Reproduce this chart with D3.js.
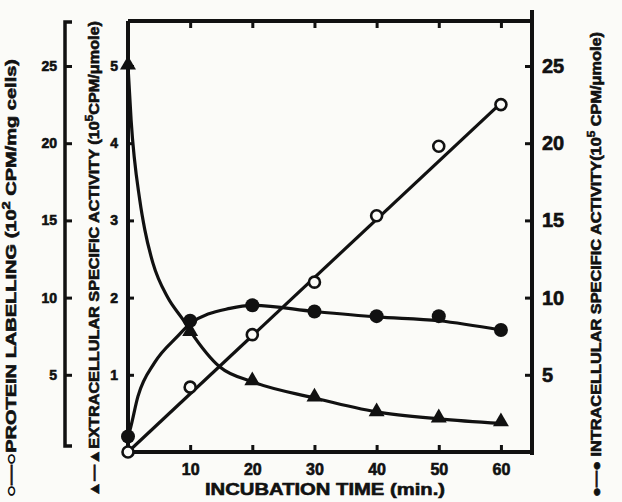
<!DOCTYPE html>
<html>
<head>
<meta charset="utf-8">
<script src="https://cdn.jsdelivr.net/npm/d3@7"></script>
<style>
  body { margin: 0; background: #fbfbf8; }
  svg { display: block; }
  text { font-family: "Liberation Sans", Arial, sans-serif; font-weight: bold; fill: #111; stroke: #111; stroke-width: 0.6; }
  .axis path.domain { display: none; }
  .axis line { stroke: #111; stroke-width: 3; }
</style>
</head>
<body>
<svg id="chart" width="622" height="502"></svg>
<script>
// sampling times (min.)
var times   = [0, 10, 20, 30, 40, 50, 60];
// open circles: protein labelling (10^2 CPM/mg cells)
var protein = [0, 4.2, 7.6, 11.0, 15.3, 19.8, 22.5];
// filled circles: intracellular specific activity (10^5 CPM/umole)
var intra   = [1.0, 8.5, 9.5, 9.1, 8.8, 8.8, 7.9];
// triangles: extracellular specific activity (10^5 CPM/umole)
var extra   = [5.0, 1.55, 0.91, 0.70, 0.51, 0.43, 0.38];

// hand-drawn curves
var extraCurveT = [0, 0.5, 1.9, 2.7, 4.0, 6.4, 8.8, 10, 14.8, 20, 30, 40, 50, 60];
var extraCurveV = [5.0, 4.3, 3.26, 2.88, 2.45, 2.0, 1.72, 1.57, 1.10, 0.91, 0.70, 0.52, 0.43, 0.37];
var intraCurveT = [0, 0.3, 1.6, 4.3, 8.0, 10, 16.4, 20, 30, 40, 50, 60];
var intraCurveV = [1.0, 1.4, 3.6, 5.8, 7.5, 8.3, 9.3, 9.5, 9.1, 8.75, 8.5, 7.9];
var proteinLineT = [0, 60];
var proteinLineV = [0, 22.6];

var xTicks = [10, 20, 30, 40, 50, 60];
var extraTicks = [1, 2, 3, 4, 5];
var bigTicks = [5, 10, 15, 20, 25];

var svg = d3.select("#chart"),
	box = {left: 128, right: 532, top: 21, bottom: 452};

var x = d3.scaleLinear().domain([0, 65]).range([box.left, box.right]);
var yExtra = d3.scaleLinear().domain([0, 5]).range([box.bottom, 66]);
var y25 = d3.scaleLinear().domain([0, 25]).range([box.bottom, 66]);

// frame
svg.append("path")
	.attr("d", `M${box.right},10 V${box.bottom + 3} M${box.left},${box.top} H${box.right} M${box.left},${box.top} V${box.bottom} H${box.right}`)
	.attr("fill", "none").attr("stroke", "#111").attr("stroke-width", 4);

// bottom axis, ticks pointing up, labels below
svg.append("g").attr("class", "axis")
	.attr("transform", `translate(0,${box.bottom})`)
	.call(d3.axisTop(x).tickValues(xTicks).tickSize(7))
	.selectAll("text")
	.attr("y", 23).attr("dy", 0)
	.style("font-size", "16px");

// top axis, ticks only
svg.append("g").attr("class", "axis")
	.attr("transform", `translate(0,${box.top})`)
	.call(d3.axisBottom(x).tickValues(xTicks).tickSize(7).tickFormat(""));

// extracellular axis on the plot's left edge
svg.append("g").attr("class", "axis")
	.attr("transform", `translate(${box.left},0)`)
	.call(d3.axisRight(yExtra).tickValues(extraTicks).tickSize(6).tickFormat(d3.format("d")))
	.selectAll("text")
	.attr("x", -10).attr("text-anchor", "end")
	.style("font-size", "14px");

// protein labelling bracket axis
var bx = 65;
svg.append("path")
	.attr("d", `M${bx + 7},22 H${bx} V446 H${bx + 7}`)
	.attr("fill", "none").attr("stroke", "#111").attr("stroke-width", 3.5);
svg.append("g").attr("class", "axis")
	.attr("transform", `translate(${bx},0)`)
	.call(d3.axisRight(y25).tickValues(bigTicks).tickSize(7))
	.selectAll("text")
	.attr("x", -8).attr("text-anchor", "end")
	.style("font-size", "14px");

// intracellular axis on the right
svg.append("g").attr("class", "axis")
	.attr("transform", `translate(${box.right},0)`)
	.call(d3.axisLeft(y25).tickValues(bigTicks).tickSize(7))
	.selectAll("text")
	.attr("x", 10).attr("text-anchor", "start")
	.style("font-size", "20px");

// curves
var line = d3.line().curve(d3.curveMonotoneX);

function drawCurve(ts, vs, yScale) {
	svg.append("path")
		.attr("d", line(ts.map((t, i) => [x(t), yScale(vs[i])])))
		.attr("fill", "none").attr("stroke", "#111").attr("stroke-width", 3.2);
}
drawCurve(extraCurveT, extraCurveV, yExtra);
drawCurve(intraCurveT, intraCurveV, y25);
drawCurve(proteinLineT, proteinLineV, y25);

// markers
svg.append("g").selectAll("path")
	.data(times)
	.enter().append("path")
	.attr("d", d3.symbol().type(d3.symbolTriangle).size(110))
	.attr("transform", (d, i) => `translate(${x(d)},${yExtra(extra[i]) - 1})`)
	.attr("fill", "#111");

svg.append("g").selectAll("circle")
	.data(times)
	.enter().append("circle")
	.attr("cx", d => x(d))
	.attr("cy", (d, i) => y25(intra[i]))
	.attr("r", 7)
	.attr("fill", "#111");

svg.append("g").selectAll("circle")
	.data(times)
	.enter().append("circle")
	.attr("cx", d => x(d))
	.attr("cy", (d, i) => y25(protein[i]))
	.attr("r", 5.5)
	.attr("fill", "#fbfbf8").attr("stroke", "#111").attr("stroke-width", 2.6);

// titles
svg.append("text")
	.attr("x", 325).attr("y", 495)
	.attr("text-anchor", "middle")
	.attr("textLength", 240).attr("lengthAdjust", "spacingAndGlyphs")
	.style("font-size", "17px")
	.text("INCUBATION TIME (min.)");

function sideLabel(px, len, size, before, after) {
	var t = svg.append("text")
		.attr("transform", `translate(${px},497) rotate(-90)`)
		.attr("dominant-baseline", "middle")
		.attr("textLength", len).attr("lengthAdjust", "spacingAndGlyphs")
		.style("font-size", size + "px");
	t.append("tspan").text(before);
	t.append("tspan").attr("dy", -5).style("font-size", (size - 4) + "px").text(after[0]);
	t.append("tspan").attr("dy", 5).text(after[1]);
}
sideLabel(12, 438, 15, "○—○PROTEIN LABELLING (10", ["2", " CPM/mg cells)"]);
sideLabel(95, 476, 14, "▲—▲EXTRACELLULAR SPECIFIC ACTIVITY (10", ["5", "CPM/μmole)"]);
sideLabel(597, 465, 14, "●—● INTRACELLULAR SPECIFIC ACTIVITY(10", ["5", " CPM/μmole)"]);
</script>
</body>
</html>
